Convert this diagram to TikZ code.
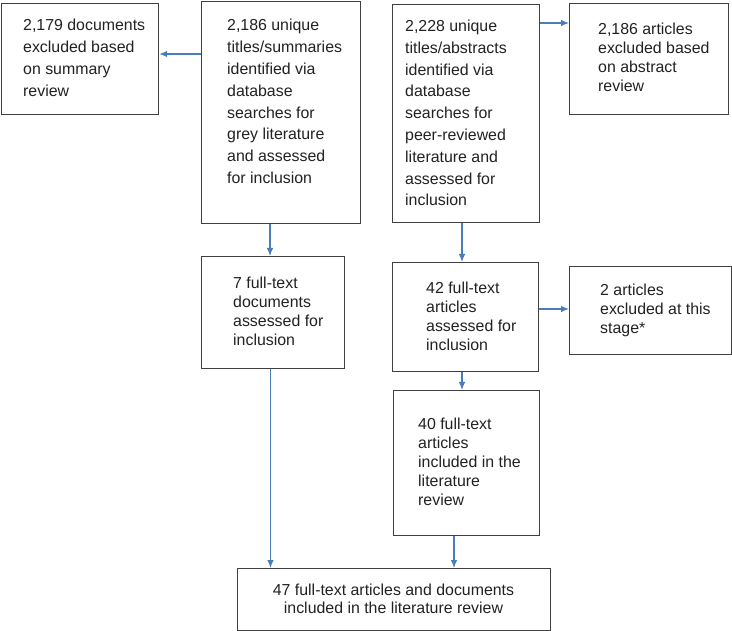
\documentclass[tikz,border=0pt]{standalone}
\usepackage{fontspec}
\setmainfont{Liberation Sans}
\usetikzlibrary{arrows.meta}
\definecolor{arrowblue}{HTML}{4A7EBB}
\definecolor{boxgray}{HTML}{404040}
\definecolor{txt}{HTML}{222222}
\newcommand{\toptext}[1]{\parbox[t]{170pt}{\fontsize{15.9}{21.8}\selectfont\raggedright #1}}
\newcommand{\lowtext}[1]{\parbox[t]{170pt}{\fontsize{15.9}{19}\selectfont\raggedright #1}}
\begin{document}
\begin{tikzpicture}[x=1pt,y=-1pt,
  box/.style={draw=boxgray, line width=1.2pt, anchor=north west, inner sep=0pt, fill=white},
  lbl/.style={anchor=base west, inner sep=0pt, text=txt},
  conn/.style={draw=arrowblue, line width=1.1pt, -{Latex[length=8pt,width=6.5pt]}}]
\useasboundingbox (0,0) rectangle (732,631);

% boxes
\node[box, minimum width=157.2pt, minimum height=111pt] (A) at (0.8,3) {};
\node[box, minimum width=159pt, minimum height=222pt] (B) at (201,0.8) {};
\node[box, minimum width=147pt, minimum height=218pt] (C) at (392,4) {};
\node[box, minimum width=159pt, minimum height=111pt] (D) at (569,3) {};
\node[box, minimum width=143pt, minimum height=112pt] (E) at (201,256) {};
\node[box, minimum width=146pt, minimum height=109pt] (F) at (392,262) {};
\node[box, minimum width=162pt, minimum height=88pt] (G) at (569,266) {};
\node[box, minimum width=146pt, minimum height=145pt] (H) at (393,390) {};
\node[box, minimum width=313pt, minimum height=62pt] (I) at (237,568) {};

% texts
\node[lbl] (At) at (23,31) {\toptext{2,179 documents\\excluded based\\on summary\\review}};
\node[lbl] (Bt) at (227,31) {\toptext{2,186 unique\\titles/summaries\\identified via\\database\\searches for\\grey literature\\and assessed\\for inclusion}};
\node[lbl] (Ct) at (405,31.5) {\toptext{2,228 unique\\titles/abstracts\\identified via\\database\\searches for\\peer-reviewed\\literature and\\assessed for\\inclusion}};
\node[lbl] (Dt) at (598,35) {\lowtext{2,186 articles\\excluded based\\on abstract\\review}};
\node[lbl] (Et) at (233,289) {\lowtext{7 full-text\\documents\\assessed for\\inclusion}};
\node[lbl] (Ft) at (426,293.5) {\lowtext{42 full-text\\articles\\assessed for\\inclusion}};
\node[lbl] (Gt) at (600,296) {\lowtext{2 articles\\excluded at this\\stage*}};
\node[lbl] (Ht) at (418,430) {\lowtext{40 full-text\\articles\\included in the\\literature\\review}};
\node[anchor=base, inner sep=0pt, text=txt] (It) at (393.5,595) {\parbox[t]{300pt}{\fontsize{15.9}{18.5}\selectfont\centering 47 full-text articles and documents\\included in the literature review}};

% connectors
\draw[conn] (B.west |- 0,54) -- (A.east |- 0,54);
\draw[conn] (C.east |- 0,23) -- (D.west |- 0,23);
\draw[conn] (B.south -| 270,0) -- (E.north -| 270,0);
\draw[conn] (C.south -| 462,0) -- (F.north -| 462,0);
\draw[conn] (F.east |- 0,309) -- (G.west |- 0,309);
\draw[conn] (F.south -| 462,0) -- (H.north -| 462,0);
\draw[conn] (E.south -| 270.5,0) -- (I.north -| 270.5,0);
\draw[conn] (H.south -| 454,0) -- (I.north -| 454,0);
\end{tikzpicture}
\end{document}
